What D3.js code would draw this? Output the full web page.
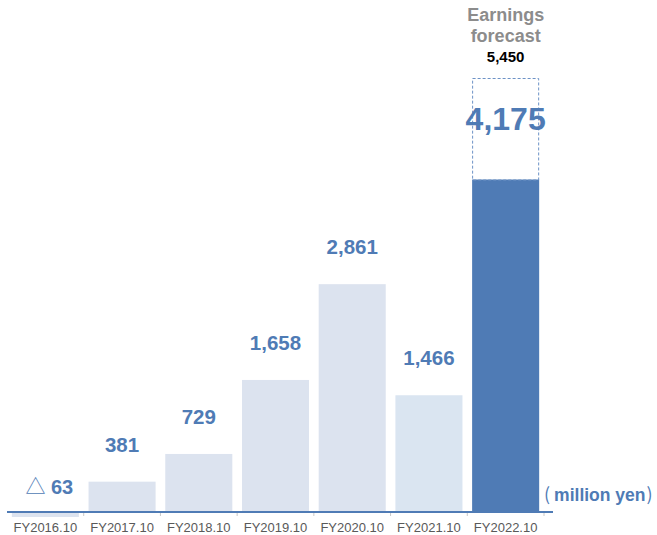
<!DOCTYPE html>
<html>
<head>
<meta charset="utf-8">
<script src="https://cdn.jsdelivr.net/npm/d3@7"></script>
<style>
  html, body { margin: 0; padding: 0; background: #fff; }
  svg { display: block; }
</style>
</head>
<body>
<div id="chart"></div>
<script>
// Operating results by fiscal year (million yen)
const categories = ["FY2016.10", "FY2017.10", "FY2018.10", "FY2019.10", "FY2020.10", "FY2021.10", "FY2022.10"];
const values = [-63, 381, 729, 1658, 2861, 1466, 4175];
const forecastValue = 5450;
const forecastTitle = ["Earnings", "forecast"];
const unitLabel = "million yen";

const W = 657, H = 535;
const FONT = "'Liberation Sans', Arial, Helvetica, sans-serif";
const CJK = "'Noto Sans CJK JP', sans-serif";
const BLUE = "#4f7bb5";
const LIGHT = "#dce3ef";
const LIGHT_2021 = "#dae5f1";

const svg = d3.select("#chart").append("svg")
  .attr("width", W).attr("height", H)
  .attr("viewBox", `0 0 ${W} ${H}`);

const x = d3.scaleBand()
  .domain(categories)
  .range([7, 544])
  .paddingInner(0.126)
  .paddingOuter(0.063);

const y = d3.scaleLinear()
  .domain([0, forecastValue])
  .range([512, 78]);

const fmt = d3.format(",");
const last = categories.length - 1;

// Bars
svg.append("g").selectAll("rect")
  .data(values)
  .join("rect")
  .attr("x", (d, i) => x(categories[i]))
  .attr("width", x.bandwidth())
  .attr("y", d => Math.min(y(d), y(0)))
  .attr("height", d => Math.abs(y(d) - y(0)))
  .attr("fill", (d, i) => i === last ? BLUE : (i === 5 ? LIGHT_2021 : LIGHT));

// Forecast outline above the last bar
const lastX = x(categories[last]);
svg.append("rect")
  .attr("x", lastX + 0.5)
  .attr("y", y(forecastValue) + 0.5)
  .attr("width", x.bandwidth() - 1)
  .attr("height", y(values[last]) - y(forecastValue))
  .attr("fill", "none")
  .attr("stroke", "#6d92c6")
  .attr("stroke-width", 1)
  .attr("stroke-dasharray", "3,2");

// Axis line and category ticks
const axisY = y(0);
svg.append("line")
  .attr("x1", 7).attr("x2", 553)
  .attr("y1", axisY).attr("y2", axisY)
  .attr("stroke", BLUE).attr("stroke-width", 2);

const boundaries = categories.slice(1).map(c => x(c) - x.step() * x.paddingInner() / 2)
  .concat([x(categories[last]) + x.bandwidth() + x.step() * x.paddingInner() / 2]);
svg.append("g").selectAll("line")
  .data(boundaries)
  .join("line")
  .attr("x1", d => d).attr("x2", d => d)
  .attr("y1", axisY + 1).attr("y2", axisY + 4)
  .attr("stroke", "#c8c8c8").attr("stroke-width", 1);

svg.append("g").selectAll("text")
  .data(categories)
  .join("text")
  .attr("x", d => x(d) + x.bandwidth() / 2)
  .attr("y", 532)
  .attr("text-anchor", "middle")
  .attr("font-family", FONT)
  .attr("font-size", 13)
  .attr("fill", "#595959")
  .text(d => d);

// Value labels
values.forEach((v, i) => {
  const cx = x(categories[i]) + x.bandwidth() / 2;
  if (i === last) {
    svg.append("text")
      .attr("x", cx)
      .attr("y", (y(forecastValue) + y(v)) / 2 + 1)
      .attr("text-anchor", "middle")
      .attr("font-family", FONT)
      .attr("font-weight", "bold")
      .attr("font-size", 32)
      .attr("fill", BLUE)
      .text(fmt(v));
  } else if (v < 0) {
    const t = svg.append("text")
      .attr("x", cx + 4)
      .attr("y", y(0) - 18)
      .attr("text-anchor", "middle")
      .attr("fill", BLUE);
    t.append("tspan")
      .attr("font-family", CJK)
      .attr("font-size", 20)
      .text("△");
    t.append("tspan")
      .attr("font-family", FONT)
      .attr("font-weight", "bold")
      .attr("font-size", 20)
      .text(" " + fmt(Math.abs(v)));
  } else {
    svg.append("text")
      .attr("x", cx)
      .attr("y", y(v) - 30)
      .attr("text-anchor", "middle")
      .attr("font-family", FONT)
      .attr("font-weight", "bold")
      .attr("font-size", 20.5)
      .attr("fill", BLUE)
      .text(fmt(v));
  }
});

// Forecast heading and value
const fx = lastX + x.bandwidth() / 2;
svg.append("text")
  .attr("x", fx).attr("y", y(forecastValue) - 16)
  .attr("text-anchor", "middle")
  .attr("font-family", FONT)
  .attr("font-weight", "bold")
  .attr("font-size", 15)
  .attr("fill", "#000")
  .text(fmt(forecastValue));

svg.append("g").selectAll("text")
  .data(forecastTitle)
  .join("text")
  .attr("x", fx)
  .attr("y", (d, i) => 21 + i * 21)
  .attr("text-anchor", "middle")
  .attr("font-family", FONT)
  .attr("font-weight", "bold")
  .attr("font-size", 18)
  .attr("fill", "#8c8c8c")
  .text(d => d);

// Unit label
const unit = svg.append("text")
  .attr("x", 544)
  .attr("y", 501)
  .attr("fill", BLUE);
unit.append("tspan")
  .attr("font-family", CJK)
  .attr("font-size", 18)
  .text("(");
unit.append("tspan")
  .attr("dx", 4)
  .attr("font-family", FONT)
  .attr("font-weight", "bold")
  .attr("font-size", 17.5)
  .text(unitLabel);
unit.append("tspan")
  .attr("dx", 1)
  .attr("font-family", CJK)
  .attr("font-size", 18)
  .text(")");
</script>
</body>
</html>
